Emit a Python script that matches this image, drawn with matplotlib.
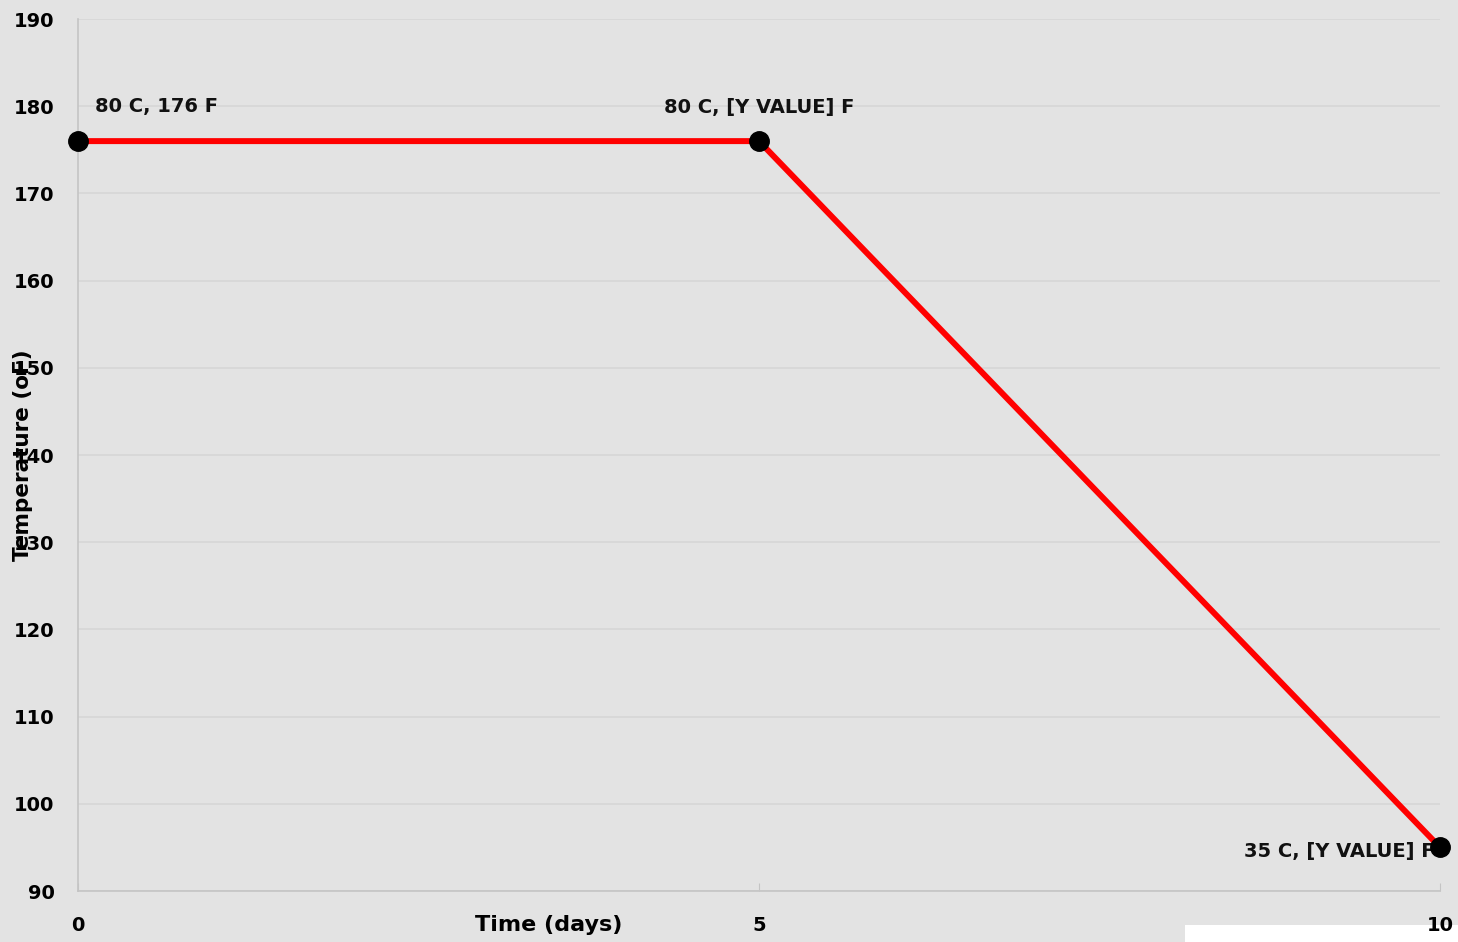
import matplotlib.pyplot as plt
from matplotlib.patches import Rectangle

# cooling profile
days = [0, 5, 10]
temp_f = [176, 176, 95]
point_labels = ["80 C, 176 F", "80 C, [Y VALUE] F", "35 C, [Y VALUE] F"]
x_ticks = [0, 5, 10]
y_ticks = list(range(90, 191, 10))

plt.rcParams['font.family'] = ['DejaVu Sans']
plt.rcParams['font.weight'] = 'bold'

bg = '#e3e3e3'
fig = plt.figure(figsize=(14.58, 9.42), dpi=100, facecolor=bg)
ax = fig.add_axes([0.0535, 0.0541, 0.9342, 0.9257])
ax.set_facecolor(bg)

ax.plot(days, temp_f, color='#ff0000', lw=4.3, zorder=3)
ax.plot(days, temp_f, 'o', color='black', ms=14, zorder=4, clip_on=False)

# point labels
offsets = [((12, 25), 'left'), ((0, 24), 'center'), ((-4, -3), 'right')]
for x, y, txt, (off, ha) in zip(days, temp_f, point_labels, offsets):
    ax.annotate(txt, (x, y), xytext=off, textcoords='offset points',
                ha=ha, va='center', fontsize=14, fontweight='bold',
                color='#111111', zorder=3.5, annotation_clip=False)

ax.set_xlim(0, 10)
ax.set_ylim(90, 190)
ax.set_xticks(x_ticks)
ax.set_yticks(y_ticks)
ax.tick_params(axis='x', direction='in', length=6, color='#c4c4c4',
               labelsize=14, pad=18)
ax.tick_params(axis='y', length=0, labelsize=14, pad=17)
for lab in ax.get_xticklabels() + ax.get_yticklabels():
    lab.set_fontweight('bold')

ax.grid(axis='y', color='#d6d6d6', lw=1.2)
for side in ['top', 'right']:
    ax.spines[side].set_visible(False)
for side in ['left', 'bottom']:
    ax.spines[side].set_color('#c4c4c4')
    ax.spines[side].set_linewidth(1.2)

fig.text(0.0158, 0.517, 'Temperature (oF)', rotation=90, ha='center',
         va='center', fontsize=15.5, fontweight='bold')
fig.text(0.376, 0.018, 'Time (days)', ha='center', va='center',
         fontsize=16, fontweight='bold')

fig.patches.append(Rectangle((0.8128, 0), 0.19, 0.018, transform=fig.transFigure,
                             facecolor='white', edgecolor='none', zorder=-1))

fig.savefig('out.png', dpi=100, facecolor=bg)
